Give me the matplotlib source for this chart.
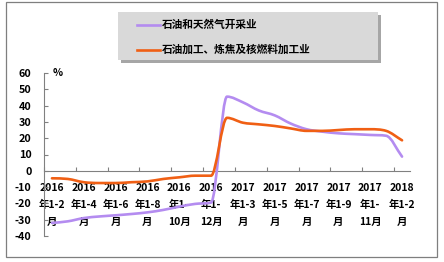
import matplotlib
matplotlib.use("Agg")
import matplotlib.pyplot as plt
from matplotlib.path import Path
from matplotlib.patches import PathPatch, Rectangle
from matplotlib.lines import Line2D
import numpy as np

plt.rcParams['font.family'] = ['Noto Sans CJK SC', 'DejaVu Sans']

series_names = ["石油和天然气开采业", "石油加工、炼焦及核燃料加工业"]
oil_gas = [-32, -31, -29, -28, -27.3, -26.5, -25.5, -24, -22, -20.3, -19.5,
           45.5, 42, 37, 34, 29, 25.5, 24, 23, 22.5, 22, 21.5, 8.7]
refining = [-4.6, -5, -7, -7.5, -7.5, -7, -6.5, -5, -4, -3, -3,
            32.5, 29.5, 28.5, 27.5, 26, 24.5, 24.5, 25, 25.5, 25.5, 24.5, 18.7]
tick_labels = ["2016\n年1-2\n月", "2016\n年1-4\n月", "2016\n年1-6\n月", "2016\n年1-8\n月",
               "2016\n年1-\n10月", "2016\n年1-\n12月", "2017\n年1-3\n月", "2017\n年1-5\n月",
               "2017\n年1-7\n月", "2017\n年1-9\n月", "2017\n年1-\n11月", "2018\n年1-2\n月"]
colors = ["#b48cf0", "#f05f14"]

W, H = 444, 262
fig = plt.figure(figsize=(W / 100, H / 100), dpi=100)
fig.patch.set_facecolor("white")

# outer frame
fig.add_artist(Rectangle((6 / W, 1 - 257 / H), 431 / W, 255 / H, transform=fig.transFigure,
                         fill=False, edgecolor="#7f7f7f", linewidth=0.9))

ax = fig.add_axes([44 / W, (H - 236) / H, 366 / W, 163 / H])
ax.set_facecolor("none")


def smooth_path(y):
    y = np.asarray(y, dtype=float)
    n = len(y)
    x = np.arange(n, dtype=float)
    d = np.diff(y)
    m = np.zeros(n)
    m[0] = d[0]
    m[-1] = d[-1]
    for i in range(1, n - 1):
        if d[i - 1] * d[i] <= 0:
            m[i] = 0.0
        else:
            avg = 0.5 * (d[i - 1] + d[i])
            lim = 3 * min(abs(d[i - 1]), abs(d[i]))
            m[i] = np.sign(avg) * min(abs(avg), lim)
    verts = [(x[0], y[0])]
    codes = [Path.MOVETO]
    for i in range(n - 1):
        verts += [(x[i] + 1 / 3, y[i] + m[i] / 3),
                  (x[i + 1] - 1 / 3, y[i + 1] - m[i + 1] / 3),
                  (x[i + 1], y[i + 1])]
        codes += [Path.CURVE4] * 3
    return Path(verts, codes)


for vals, c in zip([oil_gas, refining], colors):
    ax.add_patch(PathPatch(smooth_path(vals), fill=False, edgecolor=c, linewidth=1.9,
                           capstyle="round", joinstyle="round", zorder=3))

n = len(oil_gas)
ax.set_xlim(-0.5, n - 0.5)
ax.set_ylim(-40, 60)

for s in ["top", "right"]:
    ax.spines[s].set_visible(False)
ax.spines["bottom"].set_position(("data", 0))
for s in ["bottom", "left"]:
    ax.spines[s].set_color("#808080")
    ax.spines[s].set_linewidth(0.8)

ax.set_yticks(np.arange(-40, 61, 10))
ax.set_yticklabels([str(v) for v in range(-40, 61, 10)], fontsize=7.8, fontweight="bold")
ax.tick_params(axis="y", direction="in", length=3, width=0.8, color="#808080", pad=9)

major = np.arange(-0.5, n - 1, 2)
ax.set_xticks(major)
ax.set_xticklabels([""] * len(major))
ax.tick_params(axis="x", which="major", direction="in", length=3, width=0.8, color="#808080")
minor = np.arange(0, n, 2)
ax.set_xticks(minor, minor=True)
ax.set_xticklabels(tick_labels, minor=True, fontsize=7.5, fontweight="bold",
                   linespacing=1.85)
ax.tick_params(axis="x", which="minor", length=0, pad=8.5)

ax.text(0.05, 60, "%", fontsize=7.5, fontweight="bold", va="center", ha="left",
        transform=ax.transData)

# legend box with shadow
lx0, ly0, lx1, ly1 = 118, 12, 378, 60
fig.add_artist(Rectangle(((lx0 + 3) / W, 1 - (ly1 + 3) / H), (lx1 - lx0) / W, (ly1 - ly0) / H,
                         transform=fig.transFigure, facecolor="#a6a6a6", edgecolor="none"))
fig.add_artist(Rectangle((lx0 / W, 1 - ly1 / H), (lx1 - lx0) / W, (ly1 - ly0) / H,
                         transform=fig.transFigure, facecolor="#d9d9d9", edgecolor="none"))
for name, c, yy in zip(series_names, colors, [25, 50]):
    fig.add_artist(Line2D([137 / W, 160 / W], [1 - yy / H, 1 - yy / H], transform=fig.transFigure,
                          color=c, linewidth=1.9))
    fig.text(162 / W, 1 - yy / H, name, fontsize=7.7, fontweight="bold", va="center", ha="left")

fig.savefig("out.png", dpi=100)
